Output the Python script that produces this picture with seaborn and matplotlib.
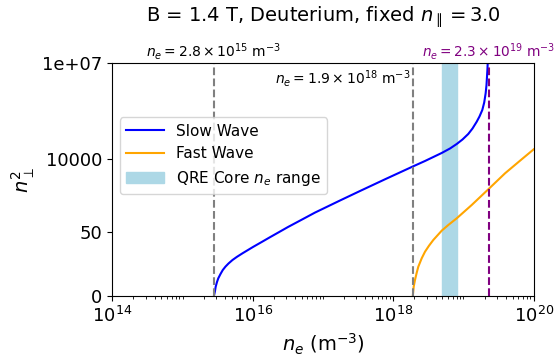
import numpy as np
import pandas as pd
import matplotlib
matplotlib.use("Agg")
import matplotlib.pyplot as plt
import seaborn as sns
from matplotlib.ticker import LogLocator, FormatStrFormatter, NullLocator, NullFormatter

# slow wave branch
slow_ne = [2.80e15, 2.90e15, 2.967e15, 3.096e15, 3.231e15, 3.473e15, 3.744e15,
           4.091e15, 4.514e15, 5.146e15, 5.965e15, 7.143e15, 8.641e15,
           1.018e16, 1.341e16, 1.760e16, 2.311e16, 3.176e16, 4.706e16,
           7.69e16, 1.747e17, 3.365e17, 7.638e17, 1.90e18, 2.835e18,
           4.90e18, 6.435e18, 8.02e18, 9.69e18, 1.17e19, 1.346e19, 1.545e19,
           1.692e19, 1.855e19, 1.975e19, 2.07e19, 2.129e19, 2.164e19,
           2.193e19, 2.214e19, 2.24e19]
slow_n2 = [0, 0.369, 0.723, 1.193, 1.657, 2.349, 3.196, 4.124, 5.185, 6.70,
           8.46, 10.91, 14.06, 17.48, 24.74, 34.98, 49.1, 73.1, 116, 207,
           496, 985, 2295, 5785, 8610, 15350, 21240, 29410, 40700, 60560,
           90170, 147200, 214500, 342900, 589700, 1.145e6, 2.09e6, 3.80e6,
           6.17e6, 1.0e7, 1.0e9]

# fast wave branch
fast_ne = [1.90e18, 1.957e18, 2.042e18, 2.160e18, 2.276e18, 2.544e18,
           2.835e18, 3.232e18, 3.722e18, 4.90e18, 6.083e18, 8.02e18,
           1.31e19, 2.259e19, 3.91e19, 6.75e19, 1.0e20]
fast_n2 = [0, 0.723, 1.431, 2.599, 4.09, 7.59, 12.25, 18.92, 28.6, 56, 84.5,
           137, 358, 1114, 3540, 9730, 20000]

ne_slow_cutoff = 2.8e15
ne_fast_cutoff = 1.9e18
ne_lh_res = 2.3e19
qre_lo, qre_hi = 5.0e18, 8.0e18
yticks = [0, 50, 1e4, 1e7]

df_slow = pd.DataFrame({"ne": slow_ne, "n2": slow_n2})
df_fast = pd.DataFrame({"ne": fast_ne, "n2": fast_n2})

fig, ax = plt.subplots(figsize=(5.55, 3.56), dpi=100)
fig.subplots_adjust(left=0.2023, right=0.9616, top=0.8222, bottom=0.1685)

ax.set_xscale("log")
ax.set_yscale("asinh", linear_width=1)

sns.lineplot(data=df_slow, x="ne", y="n2", color="blue", label="Slow Wave", ax=ax, lw=1.5)
sns.lineplot(data=df_fast, x="ne", y="n2", color="orange", label="Fast Wave", ax=ax, lw=1.5)
ax.axvspan(qre_lo, qre_hi, color="lightblue", zorder=1, label="QRE Core $n_e$ range")

ax.axvline(ne_slow_cutoff, color="gray", ls="--", lw=1.5)
ax.axvline(ne_fast_cutoff, color="gray", ls="--", lw=1.5)
ax.axvline(ne_lh_res, color="purple", ls="--", lw=1.5)

trans = ax.get_xaxis_transform()
ax.text(ne_slow_cutoff, 1.005, r"$n_e = 2.8 \times 10^{15}$ m$^{-3}$", transform=trans,
        ha="center", va="bottom", fontsize=10)
ax.text(ne_lh_res, 1.005, r"$n_e = 2.3 \times 10^{19}$ m$^{-3}$", transform=trans,
        ha="center", va="bottom", fontsize=9.8, color="purple")
ax.text(ne_fast_cutoff / 1.07, 0.935, r"$n_e = 1.9 \times 10^{18}$ m$^{-3}$", transform=trans,
        ha="right", va="center", fontsize=10)

ax.set_xlim(1e14, 1e20)
ax.set_ylim(0, 1e7)
ax.xaxis.set_major_locator(LogLocator(base=10, numticks=4))
ax.xaxis.set_minor_locator(LogLocator(base=10, subs=np.arange(1, 10), numticks=20))
ax.xaxis.set_minor_formatter(NullFormatter())
ax.set_yticks(yticks)
ax.yaxis.set_major_formatter(FormatStrFormatter("%g"))
ax.yaxis.set_minor_locator(NullLocator())
ax.tick_params(labelsize=13)

ax.set_xlabel(r"$n_e$ (m$^{-3}$)", fontsize=14)
ax.set_ylabel(r"$n_\perp^2$", fontsize=14)
ax.set_title(r"B = 1.4 T, Deuterium, fixed $n_\parallel = 3.0$", fontsize=14, pad=30)
ax.legend(loc="upper left", bbox_to_anchor=(0.0, 0.80), fontsize=11, handlelength=2.5)

plt.savefig("out.png", dpi=100)
